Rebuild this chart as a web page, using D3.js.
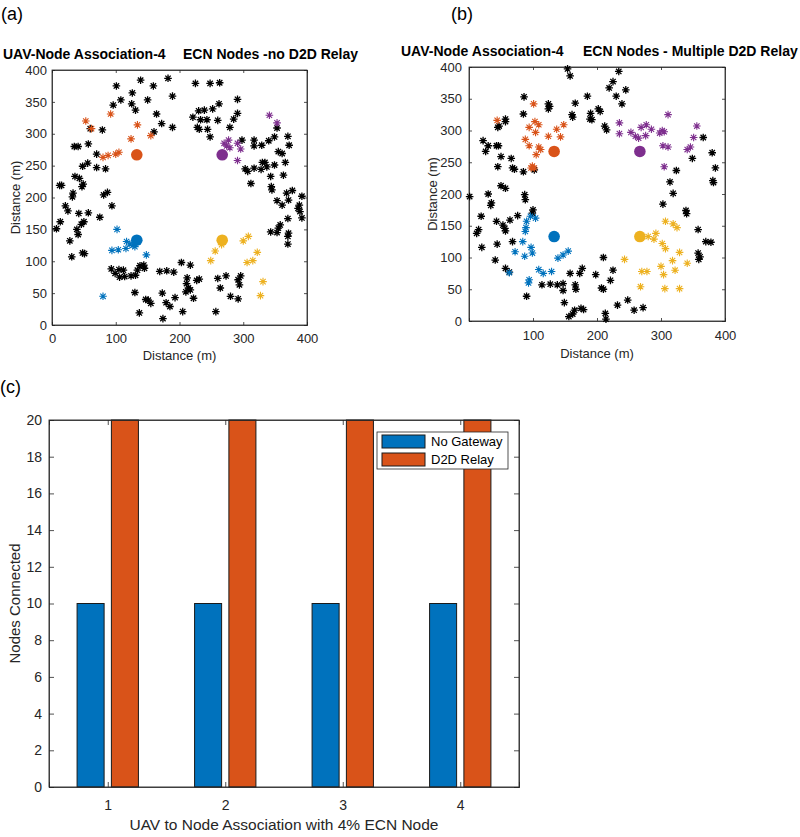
<!DOCTYPE html>
<html><head><meta charset="utf-8">
<script src="https://cdn.jsdelivr.net/npm/d3@7"></script>
<style>
body{margin:0;background:#fff}
text{font-family:Arial,"Liberation Sans",sans-serif;fill:#262626}
</style>
</head><body>
<svg id="chart" width="800" height="837"></svg>
<script>
// ---------- Panel (a) data: [x, y] in metres ----------
const aUAV = [[133,133],[133,267],[267,267],[267,133]];
const aBlack = [[101,375],[139,384],[182,387],[159,375],[189,359],[225,379],[248,379],[263,380],[108,353],[125,347],[96,345],[150,353],[131,337],[126,364],[164,331],[172,316],[189,310],[160,303],
[60,308],[79,306],[41,280],[35,280],[57,284],[70,268],[70,247],[84,245],[48,249],[56,254],[36,233],[43,230],[49,221],[47,217],[15,219],[12,219],[33,207],[32,201],[81,204],[87,208],[94,187],[21,187],[25,179],[42,175],[57,176],[75,169],[50,162],[46,158],[13,162],[7,151],[39,150],[41,142],[28,132],[31,107],[48,113],[51,112],
[93,88],[99,81],[105,87],[112,86],[114,76],[106,75],[124,77],[131,78],[134,86],[138,93],[145,89],[144,94],[130,51],[137,19],[147,40],[151,39],[155,34],[169,84],[180,85],[191,83],[173,50],[179,35],[185,29],[193,43],[174,10],[203,98],[217,94],[212,74],[211,65],[214,58],[217,55],[210,52],[222,42],[227,70],[231,72],[205,21],[257,21],[260,73],[264,58],[273,77],[280,45],[292,71],[294,63],[296,77],[292,41],
[291,354],[291,332],[285,323],[279,310],[298,290],[262,347],[252,339],[239,337],[230,336],[221,326],[233,322],[243,322],[228,310],[231,307],[244,307],[260,321],[248,295],
[340,289],[349,295],[353,309],[317,290],[317,281],[329,282],[334,255],[337,248],[328,244],[317,246],[303,245],[307,241],[312,222],[330,255],[355,272],[361,269],[366,255],[349,251],[343,233],[363,235],[344,217],[345,212],[370,296],[372,282],[368,207],[377,211],[371,196],[353,195],[361,188],[370,167],[388,188],[386,183],[392,202],[389,178],[392,168],[358,157],[355,152],[343,146],[353,145],[370,139],[371,144],[370,127]];
const aOrange = [[53,320],[92,331],[134,314],[124,292],[155,297],[62,308],[80,263],[88,266],[100,268],[105,271]];
const aPurple = [[341,329],[353,317],[277,290],[270,285],[291,285],[296,276],[274,281],[291,258],[279,278]];
const aBlue = [[102,150],[94,117],[104,118],[116,120],[117,131],[127,125],[122,127],[130,123],[148,110],[80,45]];
const aYellow = [[249,101],[256,116],[266,126],[300,132],[308,139],[306,98],[315,101],[322,114],[331,68],[327,46]];

// ---------- Panel (b) data ----------
const bUAV = [[133,133],[133,267],[267,267],[267,133]];
const bBlack = [[154,397],[158,386],[234,393],[225,377],[219,367],[245,364],[230,354],[239,342],[185,354],[166,343],[161,325],[162,321],[124,342],[126,338],[124,334],[86,353],[85,326],[189,318],[192,317],[190,327],[202,334],[205,330],[212,307],[215,301],
[22,284],[30,276],[26,267],[46,276],[43,276],[47,307],[45,305],[57,318],[57,314],[50,259],[45,243],[66,256],[68,241],[71,239],[85,235],[102,238],[50,213],[57,209],[30,200],[1,196],[35,186],[34,182],[87,199],[88,191],[100,175],[99,170],[76,166],[64,159],[43,157],[19,165],[15,144],[12,138],[53,151],[56,146],[57,142],[20,116],[44,121],[68,125],[41,96],[57,83],[63,77],
[90,39],[114,57],[127,58],[138,57],[147,48],[147,59],[158,75],[166,57],[167,50],[173,75],[177,83],[149,29],[156,7],[162,11],[165,17],[175,20],[179,18],[198,73],[210,100],[207,52],[210,50],[225,80],[221,64],[213,12],[214,3],[232,25],[248,33],[258,17],[272,21],
[366,289],[349,256],[380,265],[324,237],[385,241],[314,219],[319,201],[303,184],[381,221],[382,218],[339,174],[340,169],[358,144],[370,125],[378,124],[358,107],[361,101],[359,97]];
const bOrange = [[44,316],[101,342],[94,305],[103,314],[109,309],[104,297],[88,286],[94,276],[124,291],[137,302],[148,309],[143,290],[109,274],[112,270],[105,262],[99,244],[102,241],[97,241]];
const bPurple = [[235,312],[235,295],[253,297],[260,291],[265,288],[269,305],[277,309],[276,292],[285,302],[298,296],[302,300],[305,298],[311,325],[303,276],[311,274],[305,243],[356,307],[351,289],[341,270],[346,274]];
const bBlue = [[90,157],[96,165],[104,162],[88,141],[89,147],[72,109],[84,125],[87,102],[97,116],[99,107],[63,76],[94,65],[109,81],[116,75],[129,78],[139,99],[147,104],[155,110],[93,60]];
const bYellow = [[243,97],[280,133],[289,129],[292,138],[307,157],[319,153],[325,147],[302,122],[307,114],[329,108],[318,95],[322,80],[341,91],[300,86],[304,73],[270,78],[278,78],[268,54],[306,51],[329,51]];

// ---------- Panel (c) data ----------
const categories = [1,2,3,4];
const noGateway = [10,10,10,10];
const d2dRelay = [20,20,20,20];
const seriesNames = ["No Gateway","D2D Relay"];
const yTicksC = [0,2,4,6,8,10,12,14,16,18,20];

const colBlue="#0072BD", colOrange="#D95319", colYellow="#EDB120", colPurple="#7E2F8E";
const axisCol="#262626";
const svg=d3.select("#chart");

const starPath="M-3.8,0H3.8M0,-3.8V3.8M-2.7,-2.7L2.7,2.7M-2.7,2.7L2.7,-2.7";

function styleAxis(g){
  g.selectAll("path.domain").attr("stroke",axisCol).attr("stroke-width",0.8);
  g.selectAll(".tick line").attr("stroke",axisCol).attr("stroke-width",0.8);
  g.selectAll(".tick text").attr("fill",axisCol);
}

function scatterPanel(cfg){
  const x=d3.scaleLinear().domain([0,400]).range([cfg.x0,cfg.x1]);
  const y=d3.scaleLinear().domain([0,400]).range([cfg.y1,cfg.y0]);
  const g=svg.append("g");
  g.append("rect").attr("x",cfg.x0).attr("y",cfg.y0).attr("width",cfg.x1-cfg.x0).attr("height",cfg.y1-cfg.y0)
    .attr("fill","none").attr("stroke",axisCol).attr("stroke-width",0.8);
  const xb=g.append("g").attr("transform",`translate(0,${cfg.y1})`)
    .call(d3.axisBottom(x).tickValues(cfg.xTicks).tickSize(-3).tickPadding(cfg.xPad));
  xb.selectAll("text").attr("font-size",13);
  styleAxis(xb);
  const xt=g.append("g").attr("transform",`translate(0,${cfg.y0})`)
    .call(d3.axisTop(x).tickValues(cfg.xTicks).tickSize(-3).tickFormat(""));
  styleAxis(xt);
  const yl=g.append("g").attr("transform",`translate(${cfg.x0},0)`)
    .call(d3.axisLeft(y).tickValues([0,50,100,150,200,250,300,350,400]).tickSize(-3).tickPadding(cfg.yPad));
  yl.selectAll("text").attr("font-size",13);
  styleAxis(yl);
  const yr=g.append("g").attr("transform",`translate(${cfg.x1},0)`)
    .call(d3.axisRight(y).tickValues([0,50,100,150,200,250,300,350,400]).tickSize(-3).tickFormat(""));
  styleAxis(yr);

  const groups=[[cfg.black,"#000",1.3],[cfg.orange,colOrange,1.1],[cfg.purple,colPurple,1.1],[cfg.blue,colBlue,1.1],[cfg.yellow,colYellow,1.1]];
  groups.forEach(([data,c,w])=>{
    g.append("g").selectAll("path").data(data).join("path")
      .attr("d",starPath).attr("transform",d=>`translate(${x(d[0])},${y(d[1])})`)
      .attr("stroke",c).attr("stroke-width",w).attr("fill","none");
  });
  const uavCols=[colBlue,colOrange,colPurple,colYellow];
  g.append("g").selectAll("circle").data(cfg.uav).join("circle")
    .attr("cx",d=>x(d[0])).attr("cy",d=>y(d[1])).attr("r",5.8)
    .attr("fill",(d,i)=>uavCols[i]);

  g.append("text").attr("x",cfg.t1x).attr("y",cfg.ty).attr("font-size",14).attr("font-weight","bold").style("fill","#000").text("UAV-Node Association-4");
  g.append("text").attr("x",cfg.t2x).attr("y",cfg.ty).attr("font-size",14).attr("font-weight","bold").style("fill","#000").text(cfg.title2);
  g.append("text").attr("x",(cfg.x0+cfg.x1)/2).attr("y",cfg.xLabY).attr("text-anchor","middle").attr("font-size",13).text("Distance (m)");
  g.append("text").attr("transform",`translate(${cfg.yLabX},${(cfg.y0+cfg.y1)/2}) rotate(-90)`).attr("text-anchor","middle").attr("font-size",13).text("Distance (m)");
  svg.append("text").attr("x",cfg.labX).attr("y",20).attr("font-size",18).style("fill","#000").text(cfg.label);
}

scatterPanel({x0:52,x1:307,y0:70,y1:325,xTicks:[0,100,200,300,400],xPad:8.5,yPad:5,
  black:aBlack,orange:aOrange,purple:aPurple,blue:aBlue,yellow:aYellow,uav:aUAV,
  t1x:3,t2x:183,ty:59,title2:"ECN Nodes -no D2D Relay",xLabY:360,yLabX:19.5,labX:1,label:"(a)"});
scatterPanel({x0:469,x1:725,y0:67,y1:321,xTicks:[100,200,300,400],xPad:9.5,yPad:7,
  black:bBlack,orange:bOrange,purple:bPurple,blue:bBlue,yellow:bYellow,uav:bUAV,
  t1x:401,t2x:583,ty:56,title2:"ECN Nodes - Multiple D2D Relay",xLabY:358,yLabX:436.5,labX:451,label:"(b)"});

// ---------- Panel (c) ----------
(function(){
  const x0=49,x1=519,y0=420,y1=787;
  const x=d3.scaleLinear().domain([0.5,4.5]).range([x0,x1]);
  const y=d3.scaleLinear().domain([0,20]).range([y1,y0]);
  const g=svg.append("g");
  const bw=0.23, off=0.146;
  const rows=categories.map((c,i)=>({c,ng:noGateway[i],dr:d2dRelay[i]}));
  g.append("g").selectAll("rect").data(rows).join("rect")
    .attr("x",d=>x(d.c-off-bw/2)).attr("width",d=>x(d.c-off+bw/2)-x(d.c-off-bw/2))
    .attr("y",d=>y(d.ng)).attr("height",d=>y(0)-y(d.ng))
    .attr("fill",colBlue).attr("stroke","#1a1a1a").attr("stroke-width",1);
  g.append("g").selectAll("rect").data(rows).join("rect")
    .attr("x",d=>x(d.c+off-bw/2)).attr("width",d=>x(d.c+off+bw/2)-x(d.c+off-bw/2))
    .attr("y",d=>y(d.dr)).attr("height",d=>y(0)-y(d.dr))
    .attr("fill",colOrange).attr("stroke","#1a1a1a").attr("stroke-width",1);

  g.append("rect").attr("x",x0).attr("y",y0).attr("width",x1-x0).attr("height",y1-y0)
    .attr("fill","none").attr("stroke",axisCol).attr("stroke-width",0.9);
  const xb=g.append("g").attr("transform",`translate(0,${y1})`)
    .call(d3.axisBottom(x).tickValues(categories).tickSize(-5).tickPadding(13).tickFormat(d3.format("d")));
  xb.selectAll("text").attr("font-size",14);
  styleAxis(xb);
  const xt=g.append("g").attr("transform",`translate(0,${y0})`)
    .call(d3.axisTop(x).tickValues(categories).tickSize(-5).tickFormat(""));
  styleAxis(xt);
  const yl=g.append("g").attr("transform",`translate(${x0},0)`)
    .call(d3.axisLeft(y).tickValues(yTicksC).tickSize(-5).tickPadding(7));
  yl.selectAll("text").attr("font-size",14);
  styleAxis(yl);
  const yr=g.append("g").attr("transform",`translate(${x1},0)`)
    .call(d3.axisRight(y).tickValues(yTicksC).tickSize(-5).tickFormat(""));
  styleAxis(yr);

  g.append("text").attr("x",(x0+x1)/2).attr("y",830).attr("text-anchor","middle").attr("font-size",15.5).text("UAV to Node Association with 4% ECN Node");
  g.append("text").attr("transform",`translate(19.5,${(y0+y1)/2}) rotate(-90)`).attr("text-anchor","middle").attr("font-size",15).text("Nodes Connected");
  svg.append("text").attr("x",0).attr("y",393).attr("font-size",18).style("fill","#000").text("(c)");

  const lg=g.append("g");
  lg.append("rect").attr("x",377).attr("y",432).attr("width",131).attr("height",37)
    .attr("fill","#fff").attr("stroke",axisCol).attr("stroke-width",0.8);
  const cols=[colBlue,colOrange];
  seriesNames.forEach((n,i)=>{
    lg.append("rect").attr("x",382).attr("y",435+i*18).attr("width",43).attr("height",13)
      .attr("fill",cols[i]).attr("stroke","#1a1a1a").attr("stroke-width",1);
    lg.append("text").attr("x",431).attr("y",446+i*18).attr("font-size",13).style("fill","#000").text(n);
  });
})();
</script>
</body></html>
